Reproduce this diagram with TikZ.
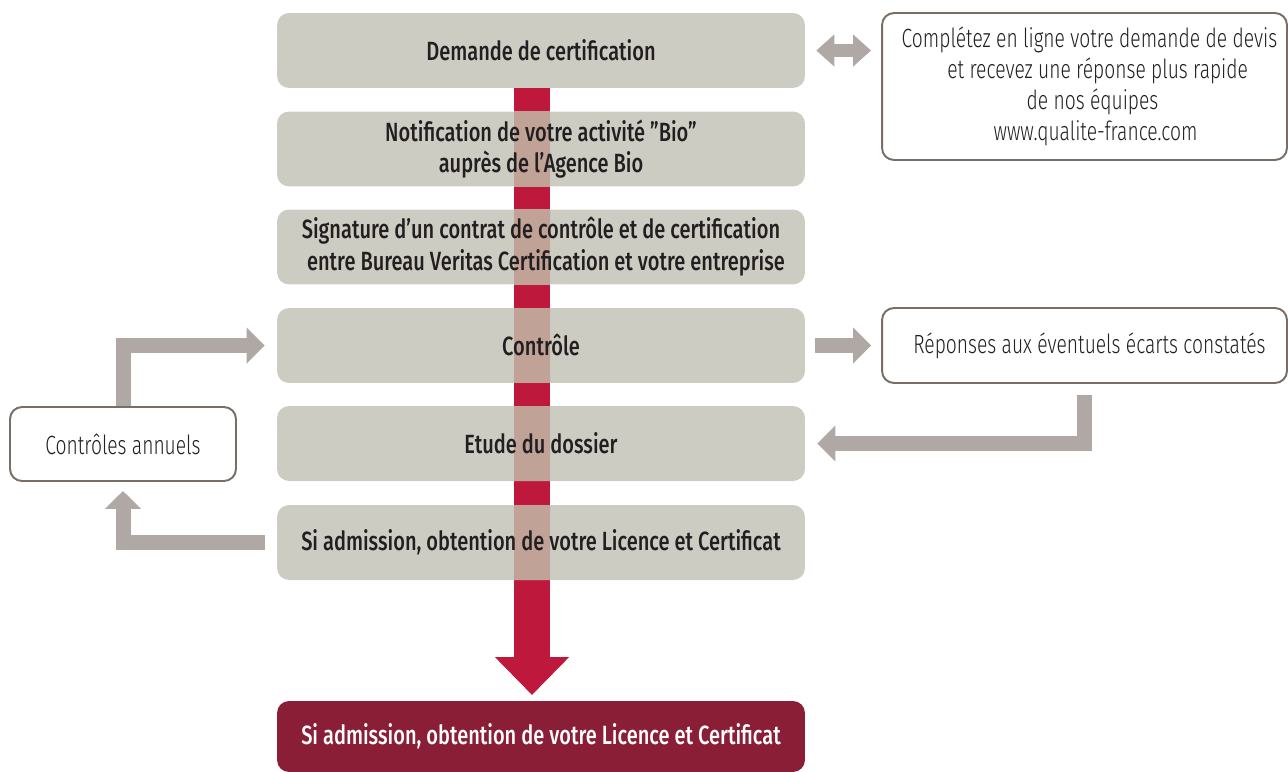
\documentclass[tikz,border=0pt]{standalone}
\usepackage{fontspec}
\setmainfont{Fira Sans Medium}[FakeStretch=0.76]
\newfontfamily\lightfont{Fira Sans Light}[FakeStretch=0.73]
\usepackage{xcolor}
\usepackage{tikz}
\usetikzlibrary{arrows.meta}

\definecolor{boxgray}{HTML}{CDCCC3}
\definecolor{arrowgray}{HTML}{B0A8A4}
\definecolor{framegray}{HTML}{786E66}
\definecolor{barred}{HTML}{BE193C}
\definecolor{overlapred}{HTML}{C0A296}
\definecolor{darkred}{HTML}{8B1E37}
\definecolor{inktext}{HTML}{231F20}

\begin{document}
\begin{tikzpicture}[x=0.02cm,y=-0.02cm,
    graybox/.style={fill=boxgray,rounded corners=0.24cm,minimum width=10.56cm,
      minimum height=1.5cm,align=center,text=inktext,font=\fontsize{15}{18}\selectfont},
    steptext/.style={graybox,fill=none},
    finalbox/.style={graybox,fill=darkred,text=white,minimum height=1.42cm},
    whitebox/.style={draw=framegray,line width=1.1pt,fill=white,rounded corners=0.24cm,
      minimum width=8.1cm,minimum height=1.5cm,align=center,text=inktext,
      font=\lightfont\fontsize{15}{17.5}\selectfont},
    grayarrow/.style={draw=arrowgray,line width=0.3cm,
      -{Triangle[width=0.7cm,length=0.36cm]}}]
    \useasboundingbox (0,0) rectangle (1288,771);

    % Big red arrow behind the steps
    \coordinate (bartop) at (532,88);
    \coordinate (bartip) at (532,695);
    \draw[barred,line width=0.72cm,-{Triangle[width=1.44cm,length=0.76cm]}] (bartop) -- (bartip);

    % Steps
    \node[graybox] (demande) at (541,50.5) {Demande de certification};
    \node[graybox] (notif) at (541,149) {};
    \node[graybox] (signature) at (541,247) {};
    \node[graybox] (controle) at (541,345.5) {};
    \node[graybox] (etude) at (541,443.5) {};
    \node[graybox] (admission) at (541,542.5) {};
    \node[finalbox] (licence) at (541,736.5) {Si admission, obtention de votre Licence et Certificat};

    % Where the red arrow shows through
    \begin{scope}
      \clip (514,0) rectangle (550,771);
      \foreach \b in {notif,signature,controle,etude,admission}
        \fill[overlapred] (\b.north west) rectangle (\b.south east);
    \end{scope}

    % Step texts on top
    \node[steptext] at (notif) {Notification de votre activité "Bio"\\ auprès de l’Agence Bio};
    \node[steptext] at (signature) {Signature d’un contrat de contrôle et de certification\\ \hspace*{0.2cm}entre Bureau Veritas Certification et votre entreprise};
    \node[steptext] at (controle) {Contrôle};
    \node[steptext] at (etude) {Etude du dossier};
    \node[steptext] at (admission) {Si admission, obtention de votre Licence et Certificat};

    % Side boxes
    \node[whitebox,minimum height=2.94cm] (devis) at (1084.5,86.5) {\hspace*{0.2cm}Complétez en ligne votre demande de devis\\ \quad et recevez une réponse plus rapide\\ \hspace*{0.32cm}de nos équipes\\ \hspace*{0.44cm}www.qualite-france.com};
    \node[whitebox] (reponses) at (1084.5,345.5) {\hspace*{0.2cm}Réponses aux éventuels écarts constatés};
    \node[whitebox,minimum width=4.52cm,minimum height=1.48cm] (annuels) at (123,444) {Contrôles annuels};

    % Gray arrows
    \draw[grayarrow,line width=0.26cm,{Triangle[width=0.62cm,length=0.36cm]}-{Triangle[width=0.62cm,length=0.36cm]},
      shorten <=0.22cm,shorten >=0.2cm] (demande.east) -- (demande.east -| devis.west);
    \draw[grayarrow,shorten <=0.2cm,shorten >=0.2cm] (controle.east) -- (reponses.west);
    \draw[grayarrow,shorten <=0.22cm,shorten >=0.24cm] (reponses.south) |- (etude.east);
    \draw[grayarrow,shorten >=0.24cm] (annuels.north) |- (controle.west);
    \draw[grayarrow,shorten <=0.24cm,shorten >=0.18cm] (admission.west) -| (annuels.south);
\end{tikzpicture}
\end{document}
